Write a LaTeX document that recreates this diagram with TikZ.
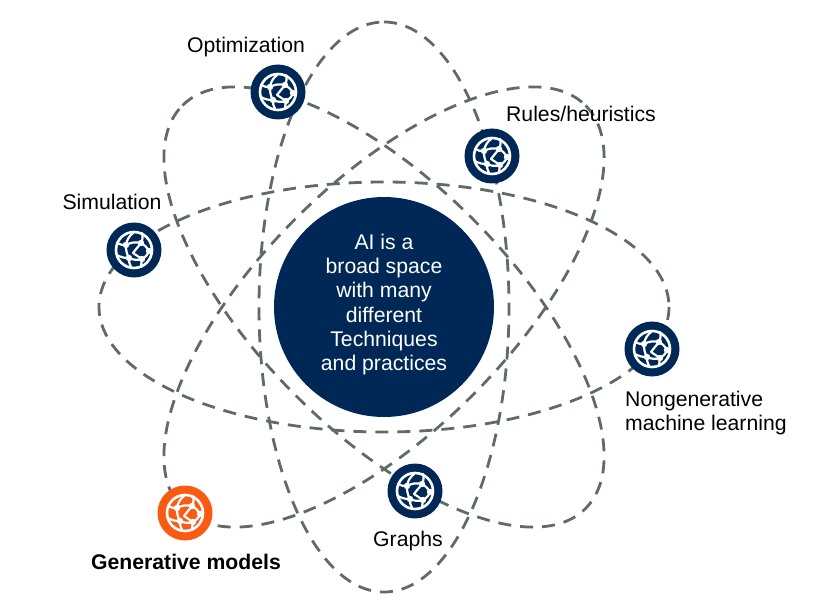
\documentclass[tikz,border=0pt]{standalone}
\usepackage{fontspec}
\setmainfont{Liberation Sans}
\definecolor{navy}{HTML}{002856}
\definecolor{flame}{HTML}{FA5A14}
\definecolor{orbitgrey}{HTML}{5F6B68}
\tikzset{
  % one pixel of the layout is one pt
  orbit/.style={line width=2.8pt, orbitgrey, dash pattern=on 13pt off 9pt},
  techdot/.style={circle, fill=#1, minimum size=55pt, inner sep=0pt},
  caption/.style={font=\fontsize{21.2}{24.2}\selectfont, text=black, inner sep=0pt, align=left},
  hubnode/.style={circle, fill=navy, minimum size=220pt, inner sep=0pt, align=center,
    font=\fontsize{21.2}{24.2}\selectfont, text=white},
  webicon/.pic={
    \draw[white, line width=2.6pt] (0,0) circle (18);
    \draw[white, line width=2.2pt, line cap=round]
      (-8,-5) to[bend left=15] (-17,-7) (-8,-5) to[bend left=20] (-1,-17)
      (-8,-5) to[bend right=15] (-5,8) (-8,-5) to[bend left=20] (7,-7)
      (7,-7) to[bend right=20] (8,-17) (7,-7) to[bend left=15] (15,1)
      (7,-7) -- (-1,3) (-5,8) to[bend right=20] (8,9)
      (-5,8) to[bend left=15] (-17,5) (-5,8) to[bend right=15] (-3,17)
      (8,9) to[bend right=20] (15,1) (8,9) -- (7,16) (-1,3) -- (8,9);
    \foreach \p in {(-8,-5),(7,-7),(-5,8),(8,9),(15,1)} {
      \fill[white] \p circle (3.2);
    }
  }
}

\begin{document}
\begin{tikzpicture}[x=1pt,y=-1pt]
\useasboundingbox (0,0) rectangle (836,615);

\coordinate (centre) at (384,307);

% Orbits (drawn first)
\foreach \a in {0,45,90,135} {
  \draw[orbit, rotate around={\a:(centre)}] (centre) ellipse [x radius=285, y radius=125];
}

% Hub (the rule lifts the lines a little inside the disc)
\node[hubnode] (hub) at (centre)
  {AI is a\\broad space\\with many\\different\\Techniques\\and practices\rule[-9.5pt]{0pt}{1pt}};

% Technique dots (on top of orbits)
\node[techdot=navy]  (optimization) at (278,92)  {};
\node[techdot=navy]  (rules)        at (492,156) {};
\node[techdot=navy]  (simulation)   at (134,250) {};
\node[techdot=navy]  (nongen)       at (652,349) {};
\node[techdot=navy]  (graphs)       at (415,491) {};
\node[techdot=flame] (generative)   at (185,513) {};

\foreach \n in {optimization,rules,simulation,nongen,graphs,generative} {
  \pic at (\n) {webicon};
}

% Labels
\node[caption] (optimizationlabel) at (246,47)  {Optimization};
\node[caption] (ruleslabel)        at (581,114) {Rules/heuristics};
\node[caption] (simulationlabel)   at (112,202) {Simulation};
\node[caption, anchor=west] (nongenlabel) at (625,413) {Nongenerative\\machine learning};
\node[caption] (graphslabel)       at (408,541) {Graphs};
\node[caption, font=\fontsize{21.2}{24.2}\selectfont\bfseries] (generativelabel) at (186,562) {Generative models};

\end{tikzpicture}
\end{document}
